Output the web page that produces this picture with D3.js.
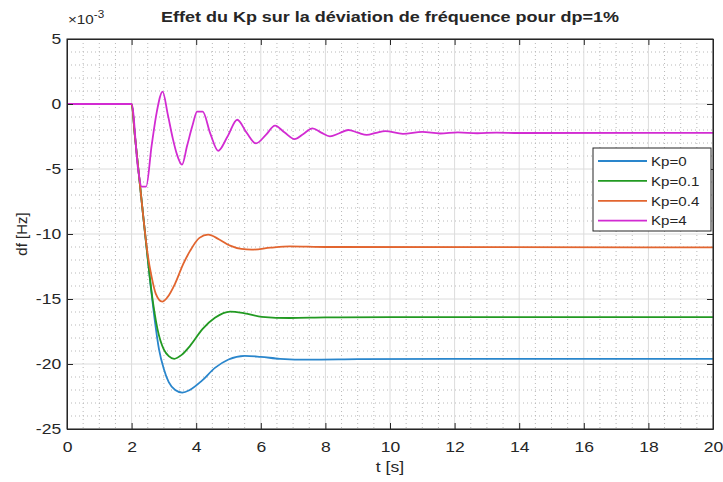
<!DOCTYPE html>
<html>
<head>
<meta charset="utf-8">
<script src="https://cdn.jsdelivr.net/npm/d3@7"></script>
<style>
  body { margin: 0; background: #fff; }
  text { font-family: "Liberation Sans", Arial, Helvetica, sans-serif; fill: #262626; }
</style>
</head>
<body>
<div id="chart"></div>
<script>
// values in units of 1e-3 Hz
const kp0T = [0, 2, 2.1, 2.2, 2.35, 2.5, 2.6, 2.7, 2.85, 3.0, 3.15, 3.35, 3.57, 3.8, 4.17, 4.58, 5.0, 5.5, 6.0, 6.6, 7.5, 9, 12, 20];
const kp0V = [0, 0, -2.4, -4.8, -8.4, -11.9, -14.2, -16.3, -18.9, -20.4, -21.4, -22.0, -22.2, -22.0, -21.3, -20.3, -19.65, -19.37, -19.45, -19.6, -19.67, -19.63, -19.6, -19.6];

const kp01T = [0, 2, 2.1, 2.2, 2.35, 2.5, 2.6, 2.7, 2.8, 3.0, 3.15, 3.32, 3.55, 3.81, 4.2, 4.58, 5.05, 5.5, 6.03, 6.9, 8, 10, 20];
const kp01V = [0, 0, -2.4, -4.8, -8.4, -11.9, -14.1, -15.9, -17.3, -18.9, -19.4, -19.6, -19.3, -18.6, -17.3, -16.45, -15.97, -16.1, -16.37, -16.46, -16.42, -16.4, -16.4];

const kp04T = [0, 2, 2.1, 2.2, 2.35, 2.5, 2.62, 2.75, 2.95, 3.1, 3.34, 3.6, 3.81, 4.1, 4.37, 4.7, 5.05, 5.4, 5.72, 6.3, 6.9, 8, 20];
const kp04V = [0, 0, -2.4, -4.8, -8.4, -11.6, -13.3, -14.6, -15.2, -14.9, -13.85, -12.3, -11.3, -10.3, -10.05, -10.4, -10.9, -11.15, -11.2, -11.05, -10.95, -11.0, -11.03];

const kp4T = [0, 2, 2.2, 2.31, 2.45, 2.62, 2.78, 2.96, 3.12, 3.28, 3.4, 3.56, 3.72, 3.88, 4.03, 4.2, 4.44, 4.68, 4.97, 5.27, 5.56, 5.85, 6.15, 6.44, 6.74, 7.04, 7.32, 7.6, 7.87, 8.14, 8.43, 8.71, 9.0, 9.28, 9.57, 9.85, 10.4, 11.0, 11.55, 12.1, 12.7, 13.3, 14, 20];
const kp4V = [0, 0, -5.0, -6.35, -6.35, -3.2, -0.6, 0.95, -0.8, -2.7, -3.85, -4.67, -3.2, -1.7, -0.59, -0.59, -2.3, -3.6, -2.5, -1.21, -2.2, -3.03, -2.4, -1.67, -2.2, -2.7, -2.3, -1.87, -2.2, -2.49, -2.25, -2.0, -2.2, -2.38, -2.22, -2.08, -2.3, -2.15, -2.27, -2.18, -2.25, -2.2, -2.23, -2.22];

const seriesNames = ["Kp=0", "Kp=0.1", "Kp=0.4", "Kp=4"];
const seriesColors = ["#2a86cc", "#229a22", "#e2652f", "#d22bd2"];
const xTicks = [0, 2, 4, 6, 8, 10, 12, 14, 16, 18, 20];
const yTicks = [5, 0, -5, -10, -15, -20, -25];

const series = [
  { name: seriesNames[0], t: kp0T, v: kp0V },
  { name: seriesNames[1], t: kp01T, v: kp01V },
  { name: seriesNames[2], t: kp04T, v: kp04V },
  { name: seriesNames[3], t: kp4T, v: kp4V },
];

// the reference text is a bit wide, stretch horizontal text a little
const sx = 1.17;

var margin = { top: 39, right: 10, bottom: 53, left: 67 },
  width = 723 - margin.left - margin.right,
  height = 482 - margin.top - margin.bottom;

const svg = d3.select("#chart").append("svg")
  .attr("width", 723)
  .attr("height", 482);

const g = svg.append("g")
  .attr("transform", `translate(${margin.left},${margin.top})`);

var x = d3.scaleLinear().domain([0, 20]).range([0, width]);
var y = d3.scaleLinear().domain([-25, 5]).range([height, 0]);

// minor grid (dotted)
g.append("g")
  .selectAll("line")
  .data(d3.range(0, 20.001, 0.5).filter((d) => Math.abs(d % 2) > 1e-6))
  .enter().append("line")
  .attr("x1", (d) => x(d)).attr("x2", (d) => x(d))
  .attr("y1", 0).attr("y2", height)
  .attr("stroke", "#b8b8b8").attr("stroke-dasharray", "1,3");
g.append("g")
  .selectAll("line")
  .data(d3.range(-25, 5.001, 1).filter((d) => Math.abs(d % 5) > 1e-6))
  .enter().append("line")
  .attr("y1", (d) => y(d)).attr("y2", (d) => y(d))
  .attr("x1", 0).attr("x2", width)
  .attr("stroke", "#b8b8b8").attr("stroke-dasharray", "1,3");

// major grid
g.append("g")
  .selectAll("line")
  .data(xTicks)
  .enter().append("line")
  .attr("x1", (d) => x(d)).attr("x2", (d) => x(d))
  .attr("y1", 0).attr("y2", height)
  .attr("stroke", "#dcdcdc");
g.append("g")
  .selectAll("line")
  .data(yTicks)
  .enter().append("line")
  .attr("y1", (d) => y(d)).attr("y2", (d) => y(d))
  .attr("x1", 0).attr("x2", width)
  .attr("stroke", "#dcdcdc");

// curves
const line = d3.line()
  .x((d) => x(d[0]))
  .y((d) => y(d[1]))
  .curve(d3.curveMonotoneX);

g.selectAll(".curve")
  .data(series)
  .enter().append("path")
  .attr("class", "curve")
  .attr("fill", "none")
  .attr("stroke", (d, i) => seriesColors[i])
  .attr("stroke-width", 1.8)
  .attr("stroke-linejoin", "round")
  .attr("d", (s) => line(s.t.map((t, i) => [t, s.v[i]])));

// axes, ticks inward on all sides
const tickLen = 6;
const fmt = (d) => String(d);
g.append("g")
  .attr("transform", `translate(0,${height})`)
  .call(d3.axisBottom(x).tickValues(xTicks).tickFormat(fmt).tickSizeInner(-tickLen).tickSizeOuter(0).tickPadding(12))
  .call((a) => a.selectAll("text").style("font-size", "15px").attr("transform", `scale(${sx},1)`));
g.append("g")
  .call(d3.axisTop(x).tickValues(xTicks).tickSizeInner(-tickLen).tickSizeOuter(0).tickFormat(""));
g.append("g")
  .call(d3.axisLeft(y).tickValues(yTicks).tickFormat(fmt).tickSizeInner(-tickLen).tickSizeOuter(0).tickPadding(5))
  .call((a) => a.selectAll("text").style("font-size", "15px").attr("transform", `scale(${sx},1)`));
g.append("g")
  .attr("transform", `translate(${width},0)`)
  .call(d3.axisRight(y).tickValues(yTicks).tickSizeInner(-tickLen).tickSizeOuter(0).tickFormat(""));

g.selectAll(".domain").attr("stroke", "#262626");
g.selectAll(".tick line").attr("stroke", "#262626");

g.append("rect")
  .attr("width", width).attr("height", height)
  .attr("fill", "none").attr("stroke", "#262626").attr("stroke-width", 1);

// exponent label
const ex = g.append("text")
  .attr("transform", `translate(1,-15) scale(${sx},1)`)
  .style("font-size", "13px");
ex.append("tspan").text("\u00d710");
ex.append("tspan").attr("dy", -6).style("font-size", "10px").text("-3");

// title and labels
svg.append("text")
  .attr("transform", `translate(${margin.left + width / 2},22) scale(${sx + 0.03},1)`)
  .attr("text-anchor", "middle")
  .style("font-size", "15px").style("font-weight", "bold")
  .text("Effet du Kp sur la déviation de fréquence pour dp=1%");

svg.append("text")
  .attr("transform", `translate(${margin.left + width / 2},472) scale(${sx},1)`)
  .attr("text-anchor", "middle")
  .style("font-size", "15px")
  .text("t [s]");

svg.append("text")
  .attr("transform", `translate(27,${margin.top + height / 2}) rotate(-90)`)
  .attr("text-anchor", "middle")
  .style("font-size", "15px")
  .text("df [Hz]");

// legend
const lg = g.append("g").attr("transform", `translate(${width - 120},${109})`);
lg.append("rect")
  .attr("width", 118).attr("height", 83)
  .attr("fill", "#fff").attr("stroke", "#262626");
const item = lg.selectAll(".legend")
  .data(series)
  .enter().append("g")
  .attr("class", "legend")
  .attr("transform", (d, i) => `translate(0,${13 + i * 19.9})`);
item.append("line")
  .attr("x1", 5).attr("x2", 54)
  .attr("stroke", (d, i) => seriesColors[i])
  .attr("stroke-width", 1.8);
item.append("text")
  .attr("transform", `translate(58,0) scale(1.12,1)`)
  .attr("dy", "0.35em")
  .style("font-size", "13.5px")
  .text((d) => d.name);
</script>
</body>
</html>
